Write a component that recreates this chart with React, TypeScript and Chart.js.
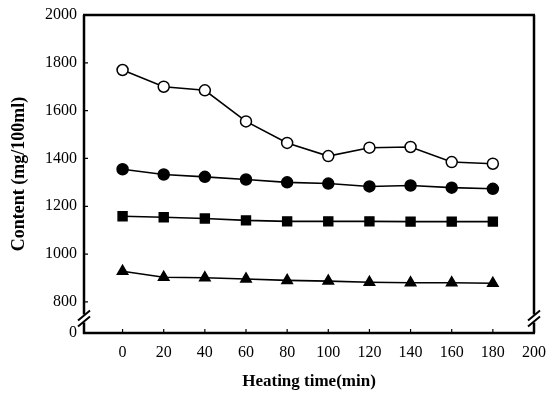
import React, { useEffect, useRef } from "react";
import { Chart, registerables } from "chart.js";
Chart.register(...registerables);

const heatingTime = [0, 20, 40, 60, 80, 100, 120, 140, 160, 180];
const seriesOpenCircle = [1770, 1700, 1685, 1555, 1465, 1410, 1445, 1448, 1385, 1378];
const seriesFilledCircle = [1355, 1333, 1323, 1312, 1300, 1295, 1283, 1287, 1278, 1273];
const seriesSquare = [1158, 1154, 1149, 1141, 1137, 1137, 1137, 1136, 1136, 1136];
const seriesTriangle = [928, 903, 901, 896, 890, 887, 882, 880, 880, 878];
const xTickValues = [0, 20, 40, 60, 80, 100, 120, 140, 160, 180, 200];
const yTickValues = [800, 1000, 1200, 1400, 1600, 1800, 2000];
const yZeroPosition = 670; // axis break: this position is labelled "0"
const yZeroLabel = "0";

const serif = "'Liberation Serif', 'DejaVu Serif', serif";

const framePlugin = {
  id: "frame",
  afterDraw(chart: any) {
    const { ctx, chartArea } = chart;
    const { left, right, top, bottom } = chartArea;
    const ys = chart.scales.y;
    const xs = chart.scales.x;
    const breakY = (ys.getPixelForValue(yZeroPosition) + ys.getPixelForValue(800)) / 2 + 1;
    ctx.save();
    ctx.strokeStyle = "#000";
    ctx.lineWidth = 2.5;
    ctx.lineCap = "butt";
    ctx.beginPath();
    ctx.moveTo(left - 1, top);
    ctx.lineTo(right + 1, top);
    ctx.moveTo(left, top);
    ctx.lineTo(left, breakY - 4);
    ctx.moveTo(left, breakY + 4);
    ctx.lineTo(left, bottom + 1);
    ctx.moveTo(left - 1, bottom);
    ctx.lineTo(right + 1, bottom);
    ctx.moveTo(right, top);
    ctx.lineTo(right, breakY - 4);
    ctx.moveTo(right, breakY + 4);
    ctx.lineTo(right, bottom);
    ctx.stroke();

    ctx.lineWidth = 2;
    ctx.beginPath();
    for (const bx of [left, right]) {
      for (const off of [-3, 3]) {
        ctx.moveTo(bx - 6, breakY + off + 5);
        ctx.lineTo(bx + 6, breakY + off - 5);
      }
    }
    ctx.stroke();

    ctx.lineWidth = 1.2;
    ctx.beginPath();
    for (const v of yTickValues) {
      const py = ys.getPixelForValue(v);
      if (py <= top + 2) continue;
      ctx.moveTo(left, py);
      ctx.lineTo(left + 4, py);
    }
    for (const v of xTickValues) {
      const px = xs.getPixelForValue(v);
      if (px >= right - 2) continue;
      ctx.moveTo(px, bottom);
      ctx.lineTo(px, bottom - 4);
    }
    ctx.stroke();
    ctx.restore();
  },
};

function pts(vals: number[]) {
  return heatingTime.map((x, i) => ({ x, y: vals[i] }));
}

export default function App() {
  const ref = useRef<HTMLCanvasElement | null>(null);
  useEffect(() => {
    if (!ref.current) return;
    const common = {
      borderColor: "#000",
      borderWidth: 1.6,
      pointBorderColor: "#000",
      pointBorderWidth: 1.5,
      tension: 0,
      fill: false,
    };
    const chart = new Chart(ref.current, {
      type: "line",
      data: {
        datasets: [
          { ...common, label: "open", data: pts(seriesOpenCircle), pointStyle: "circle", pointRadius: 5.5, pointBackgroundColor: "#fff" },
          { ...common, label: "filled", data: pts(seriesFilledCircle), pointStyle: "circle", pointRadius: 5.5, pointBackgroundColor: "#000" },
          { ...common, label: "square", data: pts(seriesSquare), pointStyle: "rect", pointRadius: 6.3, pointBackgroundColor: "#000" },
          { ...common, label: "triangle", data: pts(seriesTriangle), pointStyle: "triangle", pointRadius: 6, pointBackgroundColor: "#000" },
        ],
      },
      options: {
        animation: false,
        responsive: false,
        maintainAspectRatio: false,
        layout: { padding: { top: 15, right: 16, left: 0, bottom: 0 } },
        plugins: { legend: { display: false }, tooltip: { enabled: false } },
        scales: {
          x: {
            type: "linear",
            min: -18.75,
            max: 200,
            grid: { display: false, drawTicks: false },
            border: { display: false },
            afterBuildTicks: (s: any) => {
              s.ticks = xTickValues.map((v) => ({ value: v }));
            },
            afterFit: (s: any) => {
              s.height = 62;
              s.paddingLeft = 0;
              s.paddingRight = 0;
            },
            ticks: { color: "#000", padding: 10, maxRotation: 0, autoSkip: false, font: { family: serif, size: 16 } },
            title: { display: true, text: "Heating time(min)", color: "#000", padding: { top: 0, bottom: 3 }, font: { family: serif, size: 17, weight: "bold" } },
          },
          y: {
            type: "linear",
            min: yZeroPosition,
            max: 2000,
            grid: { display: false, drawTicks: false },
            border: { display: false },
            afterBuildTicks: (s: any) => {
              s.ticks = [yZeroPosition, ...yTickValues].map((v) => ({ value: v }));
            },
            afterFit: (s: any) => {
              s.width = 84;
              s.paddingTop = 0;
              s.paddingBottom = 0;
            },
            ticks: {
              color: "#000",
              padding: 7,
              autoSkip: false,
              font: { family: serif, size: 16 },
              callback: (v: any) => (v === yZeroPosition ? yZeroLabel : String(v)),
            },
            title: { display: true, text: "Content (mg/100ml)", color: "#000", padding: { top: 8.5, bottom: 0 }, font: { family: serif, size: 18, weight: "bold" } },
          },
        },
      },
      plugins: [framePlugin],
    } as any);
    return () => chart.destroy();
  }, []);
  return (
    <div style={{ position: "absolute", left: 0, top: 0, width: 550, height: 395, background: "#fff" }}>
      <canvas ref={ref} width={550} height={395} style={{ width: 550, height: 395, display: "block" }} />
    </div>
  );
}
